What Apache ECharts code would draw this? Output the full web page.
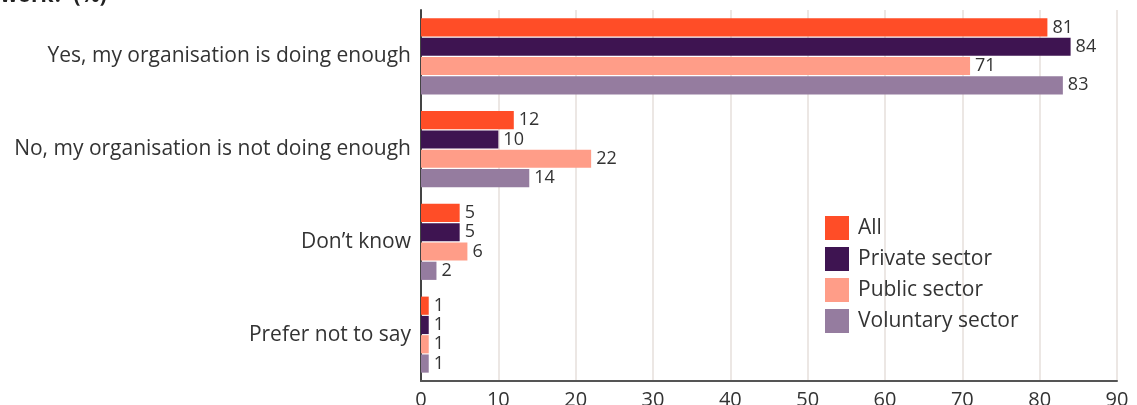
<!DOCTYPE html>
<html>
<head>
<meta charset="utf-8">
<script src="https://cdn.jsdelivr.net/npm/echarts@6/dist/echarts.min.js"></script>
<style>
  html, body { margin: 0; padding: 0; background: #fff; }
  #chart { width: 1137px; height: 405px; }
</style>
</head>
<body>
<div id="chart"></div>
<script>
// Survey responses by sector (%)
const categories = [
  'Yes, my organisation is doing enough',
  'No, my organisation is not doing enough',
  'Don\u2019t know',
  'Prefer not to say'
];
const seriesNames = ['All', 'Private sector', 'Public sector', 'Voluntary sector'];
const allValues = [81, 12, 5, 1];
const privateValues = [84, 10, 5, 1];
const publicValues = [71, 22, 6, 1];
const voluntaryValues = [83, 14, 2, 1];
const xTicks = [0, 10, 20, 30, 40, 50, 60, 70, 80, 90];

const colors = ['#FF4D27', '#3E1451', '#FF9D88', '#957C9F'];
const seriesValues = [allValues, privateValues, publicValues, voluntaryValues];
const fontFamily = '"Open Sans", Lato, sans-serif';

const chart = echarts.init(document.getElementById('chart'));
chart.setOption({
  animation: false,
  textStyle: { fontFamily: fontFamily },
  graphic: [{
    type: 'text',
    left: 0,
    top: -14,
    style: {
      text: 'work?\u2019 (%)',
      font: 'bold 21px ' + fontFamily,
      fill: '#222'
    }
  }],
  grid: {
    left: 421, right: 20, top: 10, bottom: 24,
    containLabel: false,
    outerBoundsMode: 'none'
  },
  legend: {
    orient: 'vertical',
    left: 820,
    top: 211,
    itemWidth: 24,
    itemHeight: 24,
    itemGap: 7,
    icon: 'rect',
    textStyle: { fontSize: 21, color: '#333', fontFamily: fontFamily, padding: [0, 0, 0, 4] },
    data: seriesNames
  },
  xAxis: {
    type: 'value',
    min: 0,
    max: 90,
    interval: 10,
    axisLine: { show: true, lineStyle: { color: '#555', width: 2 } },
    axisTick: { show: false },
    splitLine: { show: true, lineStyle: { color: '#ECE7E4', width: 2 } },
    axisLabel: {
      color: '#333',
      fontSize: 20,
      margin: 9,
      formatter: v => xTicks.includes(v) ? String(v) : ''
    }
  },
  yAxis: {
    type: 'category',
    inverse: true,
    data: categories,
    axisLine: { show: true, lineStyle: { color: '#444', width: 2 } },
    axisTick: { show: false },
    axisLabel: { color: '#333', fontSize: 21, margin: 10 }
  },
  series: seriesNames.map((name, i) => ({
    name: name,
    type: 'bar',
    data: seriesValues[i],
    barCategoryGap: '18%',
    barGap: '6%',
    itemStyle: { color: colors[i] },
    label: {
      show: true,
      position: 'right',
      distance: 5,
      color: '#333',
      fontSize: 18,
      fontFamily: fontFamily
    }
  }))
});
</script>
</body>
</html>
